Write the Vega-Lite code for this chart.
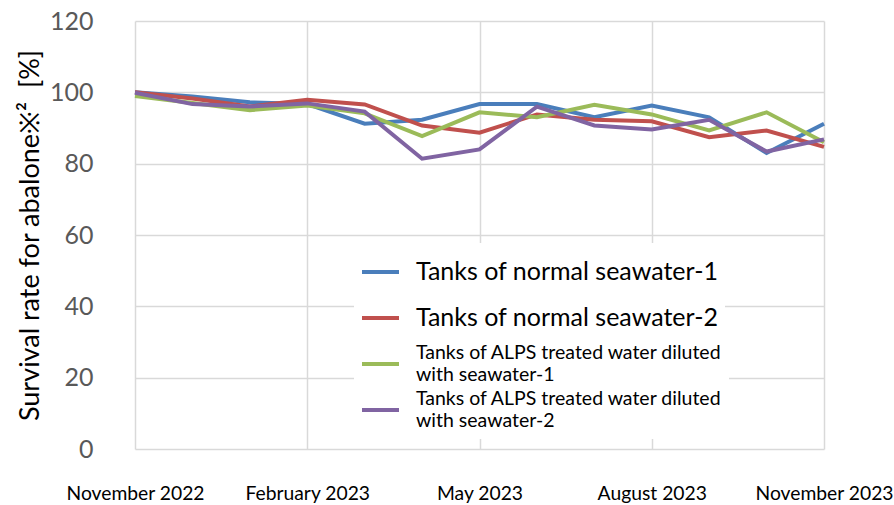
{
  "$schema": "https://vega.github.io/schema/vega-lite/v6.json",
  "width": 689,
  "height": 428,
  "autosize": "none",
  "padding": {"left": 135, "top": 21, "right": 70, "bottom": 56},
  "background": "white",
  "config": {"font": "Lato", "view": {"stroke": null}},
  "data": {"values": [
    {"month": "November 2022", "series": "Tanks of normal seawater-1", "value": 100},
    {"month": "December 2022", "series": "Tanks of normal seawater-1", "value": 98.8},
    {"month": "January 2023", "series": "Tanks of normal seawater-1", "value": 97.2},
    {"month": "February 2023", "series": "Tanks of normal seawater-1", "value": 96.7},
    {"month": "March 2023", "series": "Tanks of normal seawater-1", "value": 91.2},
    {"month": "April 2023", "series": "Tanks of normal seawater-1", "value": 92.3},
    {"month": "May 2023", "series": "Tanks of normal seawater-1", "value": 96.7},
    {"month": "June 2023", "series": "Tanks of normal seawater-1", "value": 96.7},
    {"month": "July 2023", "series": "Tanks of normal seawater-1", "value": 93},
    {"month": "August 2023", "series": "Tanks of normal seawater-1", "value": 96.3},
    {"month": "September 2023", "series": "Tanks of normal seawater-1", "value": 93},
    {"month": "October 2023", "series": "Tanks of normal seawater-1", "value": 83},
    {"month": "November 2023", "series": "Tanks of normal seawater-1", "value": 91.2},
    {"month": "November 2022", "series": "Tanks of normal seawater-2", "value": 100},
    {"month": "December 2022", "series": "Tanks of normal seawater-2", "value": 98.3},
    {"month": "January 2023", "series": "Tanks of normal seawater-2", "value": 96},
    {"month": "February 2023", "series": "Tanks of normal seawater-2", "value": 97.9},
    {"month": "March 2023", "series": "Tanks of normal seawater-2", "value": 96.6},
    {"month": "April 2023", "series": "Tanks of normal seawater-2", "value": 90.7},
    {"month": "May 2023", "series": "Tanks of normal seawater-2", "value": 88.7},
    {"month": "June 2023", "series": "Tanks of normal seawater-2", "value": 93.8},
    {"month": "July 2023", "series": "Tanks of normal seawater-2", "value": 92.3},
    {"month": "August 2023", "series": "Tanks of normal seawater-2", "value": 91.9},
    {"month": "September 2023", "series": "Tanks of normal seawater-2", "value": 87.4},
    {"month": "October 2023", "series": "Tanks of normal seawater-2", "value": 89.3},
    {"month": "November 2023", "series": "Tanks of normal seawater-2", "value": 84.7},
    {"month": "November 2022", "series": "Tanks of ALPS treated water diluted with seawater-1", "value": 99},
    {"month": "December 2022", "series": "Tanks of ALPS treated water diluted with seawater-1", "value": 97},
    {"month": "January 2023", "series": "Tanks of ALPS treated water diluted with seawater-1", "value": 95},
    {"month": "February 2023", "series": "Tanks of ALPS treated water diluted with seawater-1", "value": 96.3},
    {"month": "March 2023", "series": "Tanks of ALPS treated water diluted with seawater-1", "value": 94.1},
    {"month": "April 2023", "series": "Tanks of ALPS treated water diluted with seawater-1", "value": 87.7},
    {"month": "May 2023", "series": "Tanks of ALPS treated water diluted with seawater-1", "value": 94.4},
    {"month": "June 2023", "series": "Tanks of ALPS treated water diluted with seawater-1", "value": 93},
    {"month": "July 2023", "series": "Tanks of ALPS treated water diluted with seawater-1", "value": 96.5},
    {"month": "August 2023", "series": "Tanks of ALPS treated water diluted with seawater-1", "value": 93.8},
    {"month": "September 2023", "series": "Tanks of ALPS treated water diluted with seawater-1", "value": 89.3},
    {"month": "October 2023", "series": "Tanks of ALPS treated water diluted with seawater-1", "value": 94.4},
    {"month": "November 2023", "series": "Tanks of ALPS treated water diluted with seawater-1", "value": 86},
    {"month": "November 2022", "series": "Tanks of ALPS treated water diluted with seawater-2", "value": 99.9},
    {"month": "December 2022", "series": "Tanks of ALPS treated water diluted with seawater-2", "value": 96.7},
    {"month": "January 2023", "series": "Tanks of ALPS treated water diluted with seawater-2", "value": 96},
    {"month": "February 2023", "series": "Tanks of ALPS treated water diluted with seawater-2", "value": 96.9},
    {"month": "March 2023", "series": "Tanks of ALPS treated water diluted with seawater-2", "value": 94.6},
    {"month": "April 2023", "series": "Tanks of ALPS treated water diluted with seawater-2", "value": 81.4},
    {"month": "May 2023", "series": "Tanks of ALPS treated water diluted with seawater-2", "value": 84},
    {"month": "June 2023", "series": "Tanks of ALPS treated water diluted with seawater-2", "value": 96},
    {"month": "July 2023", "series": "Tanks of ALPS treated water diluted with seawater-2", "value": 90.7},
    {"month": "August 2023", "series": "Tanks of ALPS treated water diluted with seawater-2", "value": 89.6},
    {"month": "September 2023", "series": "Tanks of ALPS treated water diluted with seawater-2", "value": 92.3},
    {"month": "October 2023", "series": "Tanks of ALPS treated water diluted with seawater-2", "value": 83.4},
    {"month": "November 2023", "series": "Tanks of ALPS treated water diluted with seawater-2", "value": 86.8}
  ]},
  "encoding": {
    "x": {
      "field": "month", "type": "ordinal", "sort": null,
      "scale": {"type": "point", "padding": 0},
      "axis": {
        "values": ["November 2022", "February 2023", "May 2023", "August 2023", "November 2023"],
        "labelAngle": 0, "title": null, "grid": true, "gridColor": "#d9d9d9", "gridWidth": 1.5,
        "ticks": false, "domain": false, "labelPadding": 35, "labelFontSize": 19.3, "labelColor": "#000000"
      }
    },
    "y": {
      "field": "value", "type": "quantitative",
      "scale": {"domain": [0, 120]},
      "axis": {
        "values": [0, 20, 40, 60, 80, 100, 120],
        "title": "Survival rate for abalone※²\u00a0\u00a0[%]",
        "titleFontSize": 27, "titleFontWeight": "normal", "titleColor": "#000000", "titlePadding": 5,
        "grid": true, "gridColor": "#d9d9d9", "gridWidth": 1.5,
        "ticks": false, "domain": false, "labelPadding": 42, "labelFontSize": 25, "labelColor": "#595959"
      }
    }
  },
  "layer": [
    {
      "transform": [{"filter": "indexof(datum.series, 'ALPS') < 0"}],
      "mark": {"type": "line", "strokeWidth": 4},
      "encoding": {
        "color": {
          "field": "series", "type": "nominal",
          "scale": {
            "domain": ["Tanks of normal seawater-1", "Tanks of normal seawater-2"],
            "range": ["#4a7ebb", "#c0504d"]
          },
          "legend": {
            "title": null, "orient": "none", "legendX": 219, "legendY": 222,
            "padding": 6, "fillColor": "white",
            "symbolType": "stroke", "symbolSize": 1369, "symbolStrokeWidth": 4,
            "labelOffset": 15, "labelLimit": 500, "labelColor": "#000000", "labelFontSize": 25,
            "rowPadding": 0, "clipHeight": 46
          }
        }
      }
    },
    {
      "transform": [{"filter": "indexof(datum.series, 'ALPS') >= 0"}],
      "mark": {"type": "line", "strokeWidth": 4},
      "encoding": {
        "stroke": {
          "field": "series", "type": "nominal",
          "scale": {
            "domain": ["Tanks of ALPS treated water diluted with seawater-1", "Tanks of ALPS treated water diluted with seawater-2"],
            "range": ["#9bbb59", "#8064a2"]
          },
          "legend": {
            "title": null, "orient": "none", "legendX": 219, "legendY": 314,
            "padding": 6, "fillColor": "white",
            "symbolType": "stroke", "symbolSize": 1369, "symbolStrokeWidth": 4,
            "labelOffset": 15, "labelLimit": 500, "labelColor": "#000000", "labelFontSize": 19.5,
            "labelBaseline": "line-bottom",
            "rowPadding": 0, "clipHeight": 46,
            "labelExpr": "[substring(datum.label, 0, 35), substring(datum.label, 36)]",
            "encode": {"labels": {"lineHeight": {"value": 25}}}
          }
        }
      }
    }
  ]
}
